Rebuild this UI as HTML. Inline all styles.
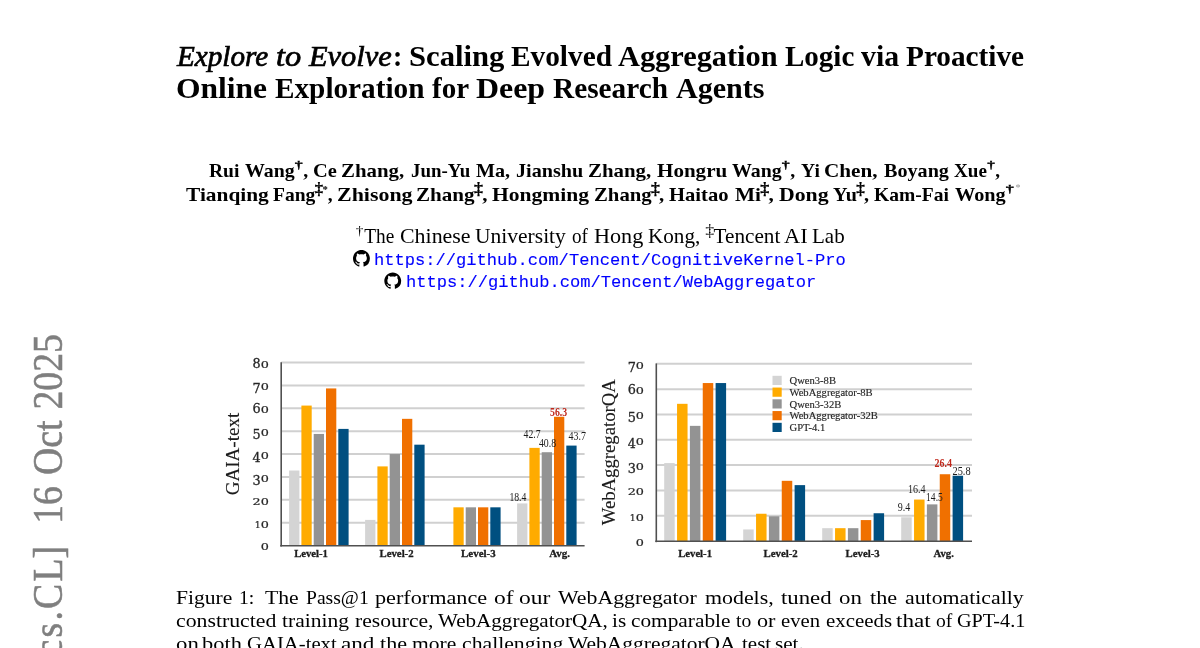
<!DOCTYPE html>
<html lang="en"><head><meta charset="utf-8"><title>Explore to Evolve</title>
<style>
html,body{margin:0;padding:0;background:#fff;}
html{width:1200px;height:648px;overflow:hidden;}
body{width:1200px;height:648px;position:relative;overflow:hidden;font-family:"Liberation Serif",serif;color:#000;}
.ln{position:absolute;left:0;white-space:nowrap;line-height:1;}
.w{position:absolute;top:0;transform-origin:0 0;white-space:nowrap;}
.it{font-style:italic;font-weight:normal;-webkit-text-stroke:0.7px #000;}
.url{position:absolute;white-space:nowrap;line-height:1;font-family:"Liberation Mono",monospace;color:#0000ff;transform-origin:0 0;-webkit-text-stroke:0.12px #0000ff;}
#af sup{-webkit-text-stroke:0;}

sup{line-height:0;}
sup.s{font-size:57%;vertical-align:baseline;position:relative;top:-0.74em;display:inline-block;transform:scaleX(1.4);margin:0 0.13em;-webkit-text-stroke:0.3px currentColor;}
sup.sd{font-size:85%;vertical-align:baseline;position:relative;top:-0.39em;-webkit-text-stroke:0.25px currentColor;margin:0 -0.04em;}
sup.s2{font-size:55%;vertical-align:baseline;position:relative;top:-0.75em;}
sup.s3{font-size:50%;vertical-align:baseline;position:relative;top:-0.95em;color:#999;font-weight:normal;margin-left:1.0px;}

.stamp{position:absolute;left:0;top:0;transform-origin:0 0;white-space:nowrap;line-height:1;color:#7f7f7f;font-size:42.5px;word-spacing:1.8px;-webkit-text-stroke:0.55px #7f7f7f;}
svg{position:absolute;left:0;top:0;}
svg text{font-family:"Liberation Serif",serif;}
.tk{font-size:13.4px;fill:#262626;stroke:#262626;stroke-width:0.3px;font-family:"DejaVu Serif","Liberation Serif",serif;}
.yl{font-size:18.6px;fill:#1c1c1c;stroke:#1c1c1c;stroke-width:0.12px;}
.xl{font-size:10.6px;font-weight:bold;fill:#1c1c1c;stroke:#1c1c1c;stroke-width:0.3px;}
.vl{font-size:11.5px;fill:#1c1c1c;}
.vr{font-size:11.5px;font-weight:bold;fill:#c0281c;}
.lg{font-size:10.6px;fill:#262626;stroke:#262626;stroke-width:0.15px;}
</style></head><body>

<div class="ln" id="t1a" style="top:41.71px;font-size:29.0px;font-weight:bold"><span class="w" style="left:177.00px;transform:scaleX(1.0056)"><span class="it">Explore</span></span> <span class="w" style="left:276.16px;transform:scaleX(1.1190)"><span class="it">to</span></span> <span class="w" style="left:309.49px;transform:scaleX(1.0487)"><span class="it">Evolve</span></span></div>
<div class="ln" id="t1" style="top:41.71px;font-size:29.0px;font-weight:bold"><span class="w" style="left:392.78px;transform:scaleX(0.9600)">:</span> <span class="w" style="left:409.15px;transform:scaleX(1.0573)">Scaling</span> <span class="w" style="left:510.79px;transform:scaleX(1.0105)">Evolved</span> <span class="w" style="left:618.38px;transform:scaleX(1.0466)">Aggregation</span> <span class="w" style="left:785.25px;transform:scaleX(1.0005)">Logic</span> <span class="w" style="left:860.81px;transform:scaleX(1.0275)">via</span> <span class="w" style="left:906.14px;transform:scaleX(1.0092)">Proactive</span></div>
<div class="ln" id="t2" style="top:73.71px;font-size:29.0px;font-weight:bold"><span class="w" style="left:175.91px;transform:scaleX(1.0868)">Online</span> <span class="w" style="left:275.20px;transform:scaleX(1.0081)">Exploration</span> <span class="w" style="left:431.91px;transform:scaleX(1.0014)">for</span> <span class="w" style="left:475.67px;transform:scaleX(1.0999)">Deep</span> <span class="w" style="left:552.91px;transform:scaleX(1.0102)">Research</span> <span class="w" style="left:675.57px;transform:scaleX(1.0367)">Agents</span></div>
<div class="ln" id="a1" style="top:160.67px;font-size:19.5px;font-weight:bold"><span class="w" style="left:208.70px;transform:scaleX(1.0016)">Rui</span> <span class="w" style="left:244.65px;transform:scaleX(1.0181)">Wang<sup class="s">†</sup>,</span> <span class="w" style="left:312.68px;transform:scaleX(1.0493)">Ce</span> <span class="w" style="left:341.37px;transform:scaleX(1.0707)">Zhang,</span> <span class="w" style="left:411.48px;transform:scaleX(0.9683)">Jun-Yu</span> <span class="w" style="left:475.51px;transform:scaleX(1.0329)">Ma,</span> <span class="w" style="left:516.48px;transform:scaleX(1.0330)">Jianshu</span> <span class="w" style="left:588.49px;transform:scaleX(1.0707)">Zhang,</span> <span class="w" style="left:656.54px;transform:scaleX(1.0799)">Hongru</span> <span class="w" style="left:732.27px;transform:scaleX(1.0181)">Wang<sup class="s">†</sup>,</span> <span class="w" style="left:800.64px;transform:scaleX(1.0016)">Yi</span> <span class="w" style="left:824.22px;transform:scaleX(1.0869)">Chen,</span> <span class="w" style="left:883.62px;transform:scaleX(1.0334)">Boyang</span> <span class="w" style="left:954.48px;transform:scaleX(0.9799)">Xue<sup class="s">†</sup>,</span></div>
<div class="ln" id="a2" style="top:184.67px;font-size:19.5px;font-weight:bold"><span class="w" style="left:185.80px;transform:scaleX(1.0965)">Tianqing</span> <span class="w" style="left:273.46px;transform:scaleX(1.0029)">Fang<sup class="sd">‡</sup><sup class="s2">*</sup>,</span> <span class="w" style="left:336.84px;transform:scaleX(1.1245)">Zhisong</span> <span class="w" style="left:416.20px;transform:scaleX(1.0813)">Zhang<sup class="sd">‡</sup>,</span> <span class="w" style="left:492.41px;transform:scaleX(1.1067)">Hongming</span> <span class="w" style="left:594.35px;transform:scaleX(1.0646)">Zhang<sup class="sd">‡</sup>,</span> <span class="w" style="left:669.49px;transform:scaleX(1.0576)">Haitao</span> <span class="w" style="left:734.90px;transform:scaleX(1.0914)">Mi<sup class="sd">‡</sup>,</span> <span class="w" style="left:778.62px;transform:scaleX(1.1169)">Dong</span> <span class="w" style="left:833.35px;transform:scaleX(1.0324)">Yu<sup class="sd">‡</sup>,</span> <span class="w" style="left:874.34px;transform:scaleX(1.0029)">Kam-Fai</span> <span class="w" style="left:954.83px;transform:scaleX(1.0381)">Wong<sup class="s">†</sup><sup class="s3">*</sup></span></div>
<div class="ln" id="af" style="top:226.08px;font-size:20.2px;"><span class="w" style="left:356.40px;transform:scaleX(0.9557)"><sup class="s">†</sup>The</span> <span class="w" style="left:399.75px;transform:scaleX(1.0846)">Chinese</span> <span class="w" style="left:475.31px;transform:scaleX(1.0659)">University</span> <span class="w" style="left:572.24px;transform:scaleX(0.9468)">of</span> <span class="w" style="left:594.17px;transform:scaleX(1.0974)">Hong</span> <span class="w" style="left:648.44px;transform:scaleX(1.0479)">Kong,</span> <span class="w" style="left:705.79px;transform:scaleX(1.0485)"><sup class="sd">‡</sup>Tencent</span> <span class="w" style="left:783.93px;transform:scaleX(1.1119)">AI</span> <span class="w" style="left:811.53px;transform:scaleX(1.0395)">Lab</span></div>
<div class="url" id="u1" style="left:374.2px;top:251.89px;font-size:17.1px;transform:scaleX(0.9999)">https://github.com/Tencent/CognitiveKernel-Pro</div>
<div class="url" id="u2" style="left:406.3px;top:274.29px;font-size:17.1px;transform:scaleX(0.9996)">https://github.com/Tencent/WebAggregator</div>
<div class="ln" id="c1" style="top:587.59px;font-size:19.6px;"><span class="w" style="left:175.90px;transform:scaleX(1.1003)">Figure</span> <span class="w" style="left:239.08px;transform:scaleX(1.0002)">1:</span> <span class="w" style="left:265.12px;transform:scaleX(1.1037)">The</span> <span class="w" style="left:305.59px;transform:scaleX(1.0002)">Pass@1</span> <span class="w" style="left:375.09px;transform:scaleX(1.1329)">performance</span> <span class="w" style="left:493.95px;transform:scaleX(1.2003)">of</span> <span class="w" style="left:519.24px;transform:scaleX(1.2003)">our</span> <span class="w" style="left:558.06px;transform:scaleX(1.1132)">WebAggregator</span> <span class="w" style="left:704.60px;transform:scaleX(1.1169)">models,</span> <span class="w" style="left:781.07px;transform:scaleX(1.1631)">tuned</span> <span class="w" style="left:839.43px;transform:scaleX(1.1669)">on</span> <span class="w" style="left:870.02px;transform:scaleX(1.1307)">the</span> <span class="w" style="left:904.86px;transform:scaleX(1.1135)">automatically</span></div>
<div class="ln" id="c2" style="top:610.88px;font-size:19.6px;"><span class="w" style="left:175.89px;transform:scaleX(1.1113)">constructed</span> <span class="w" style="left:282.06px;transform:scaleX(1.0990)">training</span> <span class="w" style="left:354.83px;transform:scaleX(1.1004)">resource,</span> <span class="w" style="left:437.65px;transform:scaleX(1.0759)">WebAggregatorQA,</span> <span class="w" style="left:612.22px;transform:scaleX(1.0823)">is</span> <span class="w" style="left:631.18px;transform:scaleX(1.0879)">comparable</span> <span class="w" style="left:736.41px;transform:scaleX(0.9991)">to</span> <span class="w" style="left:757.42px;transform:scaleX(1.1323)">or</span> <span class="w" style="left:780.72px;transform:scaleX(1.0546)">even</span> <span class="w" style="left:825.57px;transform:scaleX(1.0657)">exceeds</span> <span class="w" style="left:896.33px;transform:scaleX(1.1775)">that</span> <span class="w" style="left:935.74px;transform:scaleX(0.9991)">of</span> <span class="w" style="left:956.91px;transform:scaleX(1.0308)">GPT-4.1</span></div>
<div class="ln" id="c3" style="top:633.99px;font-size:19.6px;"><span class="w" style="left:175.84px;transform:scaleX(1.1635)">on</span> <span class="w" style="left:202.36px;transform:scaleX(1.1440)">both</span> <span class="w" style="left:247.02px;transform:scaleX(1.0567)">GAIA-text</span> <span class="w" style="left:341.42px;transform:scaleX(1.1820)">and</span> <span class="w" style="left:379.60px;transform:scaleX(1.1274)">the</span> <span class="w" style="left:412.36px;transform:scaleX(1.0996)">more</span> <span class="w" style="left:462.41px;transform:scaleX(1.1081)">challenging</span> <span class="w" style="left:568.08px;transform:scaleX(1.0957)">WebAggregatorQA</span> <span class="w" style="left:742.47px;transform:scaleX(1.0712)">test</span> <span class="w" style="left:775.43px;transform:scaleX(1.0771)">set.</span></div>
<div class="stamp" id="stamp" style="transform:translate(26.7px,671.2px) rotate(-90deg) scaleX(0.888);"><span style="letter-spacing:2.5px">[cs.C</span>L] &nbsp;16 Oct 2025</div>
<svg width="1200" height="648" viewBox="0 0 1200 648">
<g transform="translate(353.0,250.1) scale(1.055)"><path d="M8 0C3.58 0 0 3.58 0 8c0 3.54 2.29 6.53 5.47 7.59.4.07.55-.17.55-.38 0-.19-.01-.82-.01-1.49-2.01.37-2.53-.49-2.69-.94-.09-.23-.48-.94-.82-1.13-.28-.15-.68-.52-.01-.53.63-.01 1.08.58 1.23.82.72 1.21 1.87.87 2.33.66.07-.52.28-.87.51-1.07-1.78-.2-3.64-.89-3.64-3.95 0-.87.31-1.59.82-2.15-.08-.2-.36-1.02.08-2.12 0 0 .67-.21 2.2.82.64-.18 1.32-.27 2-.27.68 0 1.36.09 2 .27 1.53-1.04 2.2-.82 2.2-.82.44 1.1.16 1.92.08 2.12.51.56.82 1.27.82 2.15 0 3.07-1.87 3.75-3.65 3.95.29.25.54.73.54 1.48 0 1.07-.01 1.93-.01 2.2 0 .21.15.46.55.38A8.013 8.013 0 0016 8c0-4.42-3.58-8-8-8z" fill="#000"/></g>
<g transform="translate(384.3,272.4) scale(1.055)"><path d="M8 0C3.58 0 0 3.58 0 8c0 3.54 2.29 6.53 5.47 7.59.4.07.55-.17.55-.38 0-.19-.01-.82-.01-1.49-2.01.37-2.53-.49-2.69-.94-.09-.23-.48-.94-.82-1.13-.28-.15-.68-.52-.01-.53.63-.01 1.08.58 1.23.82.72 1.21 1.87.87 2.33.66.07-.52.28-.87.51-1.07-1.78-.2-3.64-.89-3.64-3.95 0-.87.31-1.59.82-2.15-.08-.2-.36-1.02.08-2.12 0 0 .67-.21 2.2.82.64-.18 1.32-.27 2-.27.68 0 1.36.09 2 .27 1.53-1.04 2.2-.82 2.2-.82.44 1.1.16 1.92.08 2.12.51.56.82 1.27.82 2.15 0 3.07-1.87 3.75-3.65 3.95.29.25.54.73.54 1.48 0 1.07-.01 1.93-.01 2.2 0 .21.15.46.55.38A8.013 8.013 0 0016 8c0-4.42-3.58-8-8-8z" fill="#000"/></g>
<line x1="281.2" x2="584.6" y1="522.64" y2="522.64" stroke="#d0d0d0" stroke-width="2"/>
<line x1="281.2" x2="584.6" y1="499.77" y2="499.77" stroke="#d0d0d0" stroke-width="2"/>
<line x1="281.2" x2="584.6" y1="476.91" y2="476.91" stroke="#d0d0d0" stroke-width="2"/>
<line x1="281.2" x2="584.6" y1="454.05" y2="454.05" stroke="#d0d0d0" stroke-width="2"/>
<line x1="281.2" x2="584.6" y1="431.19" y2="431.19" stroke="#d0d0d0" stroke-width="2"/>
<line x1="281.2" x2="584.6" y1="408.33" y2="408.33" stroke="#d0d0d0" stroke-width="2"/>
<line x1="281.2" x2="584.6" y1="385.46" y2="385.46" stroke="#d0d0d0" stroke-width="2"/>
<line x1="281.2" x2="584.6" y1="362.60" y2="362.60" stroke="#d0d0d0" stroke-width="2"/>
<rect x="289.10" y="470.51" width="10.3" height="74.99" fill="#d4d4d4"/>
<rect x="301.40" y="405.58" width="10.3" height="139.92" fill="#ffab00"/>
<rect x="313.70" y="433.93" width="10.3" height="111.57" fill="#939393"/>
<rect x="326.00" y="388.43" width="10.3" height="157.07" fill="#f07000"/>
<rect x="338.30" y="428.90" width="10.3" height="116.60" fill="#004f80"/>
<rect x="365.10" y="519.89" width="10.3" height="25.61" fill="#d4d4d4"/>
<rect x="377.40" y="466.40" width="10.3" height="79.10" fill="#ffab00"/>
<rect x="389.70" y="454.05" width="10.3" height="91.45" fill="#939393"/>
<rect x="402.00" y="418.84" width="10.3" height="126.66" fill="#f07000"/>
<rect x="414.30" y="444.68" width="10.3" height="100.82" fill="#004f80"/>
<rect x="453.40" y="507.32" width="10.3" height="38.18" fill="#ffab00"/>
<rect x="465.70" y="507.32" width="10.3" height="38.18" fill="#939393"/>
<rect x="478.00" y="507.32" width="10.3" height="38.18" fill="#f07000"/>
<rect x="490.30" y="507.32" width="10.3" height="38.18" fill="#004f80"/>
<rect x="517.10" y="503.43" width="10.3" height="42.07" fill="#d4d4d4"/>
<rect x="529.40" y="447.88" width="10.3" height="97.62" fill="#ffab00"/>
<rect x="541.70" y="452.22" width="10.3" height="93.28" fill="#939393"/>
<rect x="554.00" y="416.78" width="10.3" height="128.72" fill="#f07000"/>
<rect x="566.30" y="445.59" width="10.3" height="99.91" fill="#004f80"/>
<line x1="281.2" x2="281.2" y1="362.20" y2="546.60" stroke="#505050" stroke-width="1.6"/>
<line x1="280.2" x2="584.6" y1="545.70" y2="545.70" stroke="#505050" stroke-width="1.6"/>
<text class="tk" transform="translate(260.65,550.40) scale(0.956,0.71)">0</text>
<text class="tk" transform="translate(254.65,527.54) scale(0.704,0.71)">1</text><text class="tk" transform="translate(260.65,527.54) scale(0.956,0.71)">0</text>
<text class="tk" transform="translate(252.50,504.67) scale(0.956,0.71)">2</text><text class="tk" transform="translate(260.65,504.67) scale(0.956,0.71)">0</text>
<text class="tk" transform="translate(252.50,484.71) scale(0.956,1.0)">3</text><text class="tk" transform="translate(260.65,481.81) scale(0.956,0.71)">0</text>
<text class="tk" transform="translate(252.50,461.85) scale(0.956,1.0)">4</text><text class="tk" transform="translate(260.65,458.95) scale(0.956,0.71)">0</text>
<text class="tk" transform="translate(252.50,438.99) scale(0.956,1.0)">5</text><text class="tk" transform="translate(260.65,436.09) scale(0.956,0.71)">0</text>
<text class="tk" transform="translate(252.50,413.23) scale(0.956,1.0)">6</text><text class="tk" transform="translate(260.65,413.23) scale(0.956,0.71)">0</text>
<text class="tk" transform="translate(252.50,393.26) scale(0.956,1.0)">7</text><text class="tk" transform="translate(260.65,390.36) scale(0.956,0.71)">0</text>
<text class="tk" transform="translate(252.50,367.50) scale(0.956,1.0)">8</text><text class="tk" transform="translate(260.65,367.50) scale(0.956,0.71)">0</text>
<text class="yl" transform="translate(239.4,454) rotate(-90)" text-anchor="middle" textLength="82.7" lengthAdjust="spacingAndGlyphs">GAIA-text</text>
<text class="xl" x="294.2" y="557.2" textLength="33.7" lengthAdjust="spacingAndGlyphs">Level-1</text>
<text class="xl" x="379.5" y="557.2" textLength="34.1" lengthAdjust="spacingAndGlyphs">Level-2</text>
<text class="xl" x="461.1" y="557.2" textLength="34.5" lengthAdjust="spacingAndGlyphs">Level-3</text>
<text class="xl" x="549.2" y="557.2" textLength="20.8" lengthAdjust="spacingAndGlyphs">Avg.</text>
<text class="vl" x="509.4" y="500.6" textLength="17.0" lengthAdjust="spacingAndGlyphs">18.4</text>
<text class="vl" x="523.6" y="437.8" textLength="17.0" lengthAdjust="spacingAndGlyphs">42.7</text>
<text class="vl" x="538.9" y="447" textLength="17.2" lengthAdjust="spacingAndGlyphs">40.8</text>
<text class="vr" x="550" y="415.6" textLength="17.2" lengthAdjust="spacingAndGlyphs">56.3</text>
<text class="vl" x="568.6" y="440.2" textLength="17.5" lengthAdjust="spacingAndGlyphs">43.7</text>
<line x1="656.3" x2="972" y1="515.77" y2="515.77" stroke="#d0d0d0" stroke-width="2"/>
<line x1="656.3" x2="972" y1="490.44" y2="490.44" stroke="#d0d0d0" stroke-width="2"/>
<line x1="656.3" x2="972" y1="465.11" y2="465.11" stroke="#d0d0d0" stroke-width="2"/>
<line x1="656.3" x2="972" y1="439.79" y2="439.79" stroke="#d0d0d0" stroke-width="2"/>
<line x1="656.3" x2="972" y1="414.46" y2="414.46" stroke="#d0d0d0" stroke-width="2"/>
<line x1="656.3" x2="972" y1="389.13" y2="389.13" stroke="#d0d0d0" stroke-width="2"/>
<line x1="656.3" x2="972" y1="363.80" y2="363.80" stroke="#d0d0d0" stroke-width="2"/>
<rect x="664.20" y="463.09" width="10.5" height="78.01" fill="#d4d4d4"/>
<rect x="677.05" y="403.82" width="10.5" height="137.28" fill="#ffab00"/>
<rect x="689.90" y="425.86" width="10.5" height="115.25" fill="#939393"/>
<rect x="702.75" y="383.05" width="10.5" height="158.05" fill="#f07000"/>
<rect x="715.60" y="383.05" width="10.5" height="158.05" fill="#004f80"/>
<rect x="743.20" y="529.45" width="10.5" height="11.65" fill="#d4d4d4"/>
<rect x="756.05" y="513.75" width="10.5" height="27.35" fill="#ffab00"/>
<rect x="768.90" y="516.28" width="10.5" height="24.82" fill="#939393"/>
<rect x="781.75" y="480.82" width="10.5" height="60.28" fill="#f07000"/>
<rect x="794.60" y="485.12" width="10.5" height="55.98" fill="#004f80"/>
<rect x="822.20" y="528.18" width="10.5" height="12.92" fill="#d4d4d4"/>
<rect x="835.05" y="528.18" width="10.5" height="12.92" fill="#ffab00"/>
<rect x="847.90" y="528.18" width="10.5" height="12.92" fill="#939393"/>
<rect x="860.75" y="520.08" width="10.5" height="21.02" fill="#f07000"/>
<rect x="873.60" y="513.24" width="10.5" height="27.86" fill="#004f80"/>
<rect x="901.20" y="517.29" width="10.5" height="23.81" fill="#d4d4d4"/>
<rect x="914.05" y="499.56" width="10.5" height="41.54" fill="#ffab00"/>
<rect x="926.90" y="504.37" width="10.5" height="36.73" fill="#939393"/>
<rect x="939.75" y="474.23" width="10.5" height="66.87" fill="#f07000"/>
<rect x="952.60" y="475.75" width="10.5" height="65.35" fill="#004f80"/>
<line x1="656.3" x2="656.3" y1="363.40" y2="542.20" stroke="#505050" stroke-width="1.6"/>
<line x1="655.3" x2="972" y1="541.30" y2="541.30" stroke="#505050" stroke-width="1.6"/>
<text class="tk" transform="translate(635.85,546.00) scale(0.956,0.71)">0</text>
<text class="tk" transform="translate(629.85,520.67) scale(0.704,0.71)">1</text><text class="tk" transform="translate(635.85,520.67) scale(0.956,0.71)">0</text>
<text class="tk" transform="translate(627.70,495.34) scale(0.956,0.71)">2</text><text class="tk" transform="translate(635.85,495.34) scale(0.956,0.71)">0</text>
<text class="tk" transform="translate(627.70,472.91) scale(0.956,1.0)">3</text><text class="tk" transform="translate(635.85,470.01) scale(0.956,0.71)">0</text>
<text class="tk" transform="translate(627.70,447.59) scale(0.956,1.0)">4</text><text class="tk" transform="translate(635.85,444.69) scale(0.956,0.71)">0</text>
<text class="tk" transform="translate(627.70,422.26) scale(0.956,1.0)">5</text><text class="tk" transform="translate(635.85,419.36) scale(0.956,0.71)">0</text>
<text class="tk" transform="translate(627.70,394.03) scale(0.956,1.0)">6</text><text class="tk" transform="translate(635.85,394.03) scale(0.956,0.71)">0</text>
<text class="tk" transform="translate(627.70,371.60) scale(0.956,1.0)">7</text><text class="tk" transform="translate(635.85,368.70) scale(0.956,0.71)">0</text>
<text class="yl" transform="translate(615.2,452.2) rotate(-90)" text-anchor="middle" textLength="146" lengthAdjust="spacingAndGlyphs">WebAggregatorQA</text>
<text class="xl" x="678.2" y="557.2" textLength="33.8" lengthAdjust="spacingAndGlyphs">Level-1</text>
<text class="xl" x="763.5" y="557.2" textLength="34.3" lengthAdjust="spacingAndGlyphs">Level-2</text>
<text class="xl" x="845.6" y="557.2" textLength="34.1" lengthAdjust="spacingAndGlyphs">Level-3</text>
<text class="xl" x="933.6" y="557.2" textLength="20.3" lengthAdjust="spacingAndGlyphs">Avg.</text>
<text class="vl" x="897.8" y="511.1" textLength="12.5" lengthAdjust="spacingAndGlyphs">9.4</text>
<text class="vl" x="908" y="492.8" textLength="17.6" lengthAdjust="spacingAndGlyphs">16.4</text>
<text class="vl" x="926.1" y="500.6" textLength="16.7" lengthAdjust="spacingAndGlyphs">14.5</text>
<text class="vr" x="934.4" y="466.7" textLength="17.5" lengthAdjust="spacingAndGlyphs">26.4</text>
<text class="vl" x="952.5" y="474.7" textLength="18.1" lengthAdjust="spacingAndGlyphs">25.8</text>
<rect x="772.5" y="375.80" width="9.2" height="9.2" fill="#d4d4d4"/>
<text class="lg" x="789.5" y="384.10">Qwen3-8B</text>
<rect x="772.5" y="387.55" width="9.2" height="9.2" fill="#ffab00"/>
<text class="lg" x="789.5" y="395.85">WebAggregator-8B</text>
<rect x="772.5" y="399.30" width="9.2" height="9.2" fill="#939393"/>
<text class="lg" x="789.5" y="407.60">Qwen3-32B</text>
<rect x="772.5" y="411.05" width="9.2" height="9.2" fill="#f07000"/>
<text class="lg" x="789.5" y="419.35">WebAggregator-32B</text>
<rect x="772.5" y="422.80" width="9.2" height="9.2" fill="#004f80"/>
<text class="lg" x="789.5" y="431.10">GPT-4.1</text>
</svg>
</body></html>
